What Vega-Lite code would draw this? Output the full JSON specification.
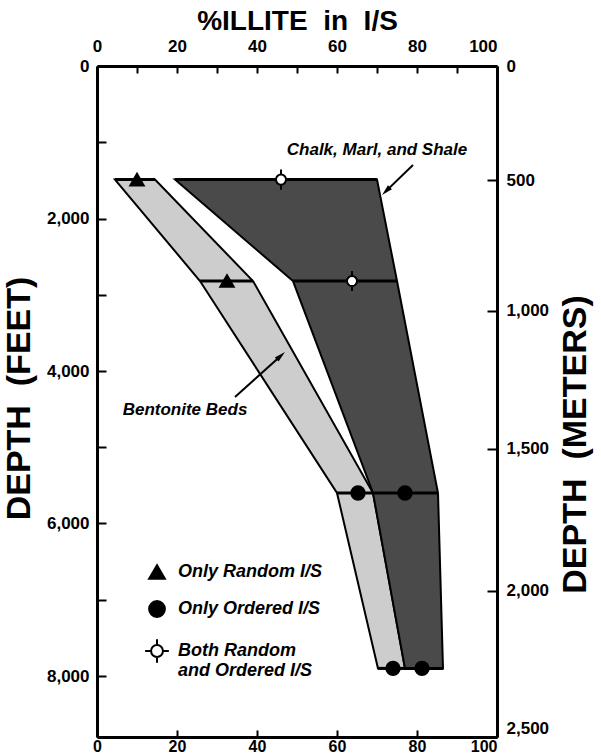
{
  "$schema": "https://vega.github.io/schema/vega-lite/v6.json",
  "width": 400,
  "height": 671,
  "autosize": "none",
  "padding": {"left": 97, "top": 66, "right": 104, "bottom": 17},
  "background": "white",
  "config": {
    "view": {"stroke": null},
    "axis": {
      "domainColor": "black", "domainWidth": 3, "tickColor": "black", "tickWidth": 2,
      "labelColor": "black", "labelFont": "Liberation Sans", "labelFontSize": 17, "labelFontWeight": "bold",
      "titleFont": "Liberation Sans", "titleFontWeight": "bold", "titleColor": "black",
      "grid": false, "labelFlush": false, "labelOverlap": false
    },
    "legend": {
      "orient": "none", "legendX": 51, "legendY": 497, "title": null,
      "labelFont": "Liberation Sans", "labelFontSize": 18, "labelFontStyle": "italic", "labelFontWeight": "bold",
      "labelColor": "black", "symbolSize": 250, "symbolStrokeWidth": 2,
      "rowPadding": 14, "labelOffset": 12, "labelLimit": 0, "padding": 0
    }
  },
  "datasets": {
    "bands": [
      {"band": "Bentonite", "depth": 1490, "left": 4.5, "right": 14.5},
      {"band": "Bentonite", "depth": 2820, "left": 25.75, "right": 39.0},
      {"band": "Bentonite", "depth": 5600, "left": 60.0, "right": 69.0},
      {"band": "Bentonite", "depth": 7900, "left": 70.25, "right": 77.0},
      {"band": "Chalk", "depth": 1490, "left": 19.5, "right": 70.0},
      {"band": "Chalk", "depth": 2820, "left": 49.0, "right": 75.0},
      {"band": "Chalk", "depth": 5600, "left": 69.0, "right": 85.25},
      {"band": "Chalk", "depth": 7900, "left": 77.0, "right": 86.5}
    ],
    "samples": [
      {"type": "Only Random I/S", "pct": 10.0, "depth": 1490},
      {"type": "Only Random I/S", "pct": 32.5, "depth": 2820},
      {"type": "Both Random and Ordered I/S", "pct": 46.0, "depth": 1490},
      {"type": "Both Random and Ordered I/S", "pct": 63.75, "depth": 2820},
      {"type": "Only Ordered I/S", "pct": 65.25, "depth": 5600},
      {"type": "Only Ordered I/S", "pct": 77.0, "depth": 5600},
      {"type": "Only Ordered I/S", "pct": 74.0, "depth": 7900},
      {"type": "Only Ordered I/S", "pct": 81.25, "depth": 7900}
    ],
    "notes": [
      {"text": "Chalk, Marl, and Shale", "pct": 70.0, "depth": 1102},
      {"text": "Bentonite Beds", "pct": 22.0, "depth": 4511}
    ],
    "arrows": [
      {"name": "chalk", "x1": 79.0, "y1": 1298, "x2": 72.5, "y2": 1628},
      {"name": "bentonite", "x1": 34.5, "y1": 4341, "x2": 45.7, "y2": 3812}
    ]
  },
  "layer": [
    {
      "layer": [
        {
          "data": {"name": "bands"},
          "mark": {"type": "area", "orient": "horizontal", "stroke": "black", "strokeWidth": 2, "opacity": 1},
          "encoding": {
            "y": {"field": "depth", "type": "quantitative",
                  "scale": {"domain": [0, 8800], "reverse": true, "nice": false, "zero": false},
                  "axis": {"orient": "left", "values": [0, 1000, 2000, 3000, 4000, 5000, 6000, 7000, 8000],
                           "labelExpr": "datum.value % 2000 === 0 ? format(datum.value, ',.0f') : ''",
                           "tickSize": -9, "labelPadding": 17, "title": "DEPTH\u00a0\u00a0(FEET)",
                           "titlePadding": 10, "titleFontSize": 34, "titleY": 332}},
            "x": {"field": "left", "type": "quantitative",
                  "scale": {"domain": [0, 100], "nice": false},
                  "axis": {"orient": "bottom", "values": [0, 10, 20, 30, 40, 50, 60, 70, 80, 90, 100],
                           "labelExpr": "datum.value % 20 === 0 ? datum.label : ''",
                           "labelAlign": {"condition": {"test": "datum.value === 100", "value": "right"}, "value": "center"},
                           "labelFontSize": 16,
                           "tickSize": -7, "labelPadding": 8, "title": null}},
            "x2": {"field": "right"},
            "color": {"field": "band", "type": "nominal",
                      "scale": {"domain": ["Bentonite", "Chalk"], "range": ["#cdcdcd", "#4a4a4a"]},
                      "legend": null}
          }
        },
        {
          "data": {"name": "bands"},
          "mark": {"type": "rule", "color": "black", "strokeWidth": 3},
          "encoding": {
            "y": {"field": "depth", "type": "quantitative"},
            "x": {"field": "left", "type": "quantitative"},
            "x2": {"field": "right"}
          }
        },
        {
          "data": {"name": "arrows"},
          "mark": {"type": "rule", "color": "black", "strokeWidth": 2},
          "encoding": {
            "x": {"field": "x1", "type": "quantitative"},
            "y": {"field": "y1", "type": "quantitative"},
            "x2": {"field": "x2"},
            "y2": {"field": "y2"}
          }
        },
        {
          "data": {"name": "arrows"},
          "transform": [{"filter": "datum.name === 'chalk'"}],
          "mark": {"type": "point", "shape": "M0,-1L-0.4,0.6L0.4,0.6Z", "filled": true, "color": "black", "size": 196, "angle": 225, "opacity": 1},
          "encoding": {
            "x": {"field": "x2", "type": "quantitative"},
            "y": {"field": "y2", "type": "quantitative"}
          }
        },
        {
          "data": {"name": "arrows"},
          "transform": [{"filter": "datum.name === 'bentonite'"}],
          "mark": {"type": "point", "shape": "M0,-1L-0.4,0.6L0.4,0.6Z", "filled": true, "color": "black", "size": 196, "angle": 48, "opacity": 1},
          "encoding": {
            "x": {"field": "x2", "type": "quantitative"},
            "y": {"field": "y2", "type": "quantitative"}
          }
        },
        {
          "data": {"name": "notes"},
          "mark": {"type": "text", "font": "Liberation Sans", "fontSize": 17, "fontStyle": "italic", "fontWeight": "bold", "color": "black"},
          "encoding": {
            "x": {"field": "pct", "type": "quantitative"},
            "y": {"field": "depth", "type": "quantitative"},
            "text": {"field": "text"}
          }
        },
        {
          "data": {"name": "samples"},
          "mark": {"type": "point", "filled": true, "strokeWidth": 2, "size": 180, "opacity": 1},
          "encoding": {
            "x": {"field": "pct", "type": "quantitative"},
            "y": {"field": "depth", "type": "quantitative"},
            "shape": {"field": "type", "type": "nominal",
                      "scale": {"domain": ["Only Random I/S", "Only Ordered I/S", "Both Random and Ordered I/S"],
                                "range": ["triangle-up", "circle", "M0,-1.5L0,-0.75M0,0.75L0,1.5M-1.5,0L-0.75,0M0.75,0L1.5,0M0.75,0A0.75,0.75,0,1,1,-0.75,0A0.75,0.75,0,1,1,0.75,0Z"]},
                      "legend": {"labelExpr": "datum.label === 'Both Random and Ordered I/S' ? ['Both Random', 'and Ordered I/S'] : datum.label"}},
            "fill": {"field": "type", "type": "nominal",
                     "scale": {"domain": ["Only Random I/S", "Only Ordered I/S", "Both Random and Ordered I/S"],
                               "range": ["black", "black", "white"]},
                     "legend": {"labelExpr": "datum.label === 'Both Random and Ordered I/S' ? ['Both Random', 'and Ordered I/S'] : datum.label"}},
            "stroke": {"field": "type", "type": "nominal",
                       "scale": {"domain": ["Only Random I/S", "Only Ordered I/S", "Both Random and Ordered I/S"],
                                 "range": ["black", "black", "black"]},
                       "legend": {"labelExpr": "datum.label === 'Both Random and Ordered I/S' ? ['Both Random', 'and Ordered I/S'] : datum.label"}}
          }
        }
      ]
    },
    {
      "data": {"values": [{"m": 0, "p": 0}, {"m": 2500, "p": 100}]},
      "mark": {"type": "point", "opacity": 0},
      "encoding": {
        "x": {"field": "p", "type": "quantitative",
              "scale": {"domain": [0, 100], "nice": false},
              "axis": {"orient": "top", "values": [0, 10, 20, 30, 40, 50, 60, 70, 80, 90, 100],
                       "labelExpr": "datum.value % 20 === 0 ? datum.label : ''",
                       "labelAlign": {"condition": {"test": "datum.value === 100", "value": "right"}, "value": "center"},
                       "tickSize": -7, "labelPadding": 18, "title": "%ILLITE\u00a0\u00a0in\u00a0\u00a0I/S",
                       "titlePadding": 2, "titleFontSize": 28}},
        "y": {"field": "m", "type": "quantitative",
              "scale": {"type": "pow", "exponent": 1.1, "domain": [0, 2500], "reverse": true, "nice": false, "zero": false},
              "axis": {"orient": "right", "values": [0, 500, 1000, 1500, 2000, 2500],
                       "labelExpr": "format(datum.value, ',.0f')",
                       "labelBaseline": {"condition": {"test": "datum.value === 2500", "value": "bottom"}, "value": "middle"},
                       "tickSize": -10, "labelPadding": 19, "title": "DEPTH\u00a0\u00a0(METERS)",
                       "titleAngle": 270, "titleBaseline": "top", "titlePadding": 10, "titleFontSize": 34, "titleY": 378}}
      }
    }
  ],
  "resolve": {"scale": {"x": "independent", "y": "independent"}}
}
